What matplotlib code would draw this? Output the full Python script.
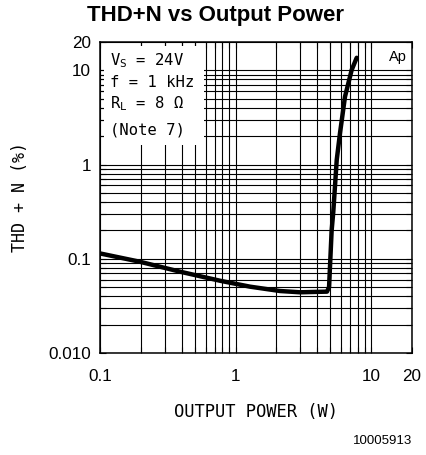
import matplotlib
matplotlib.use("Agg")
import matplotlib.pyplot as plt
from matplotlib.ticker import FixedLocator, NullFormatter
from matplotlib.patches import Rectangle

# Data
power_w = [0.1, 0.197, 0.389, 0.767, 1.277, 2.125, 2.985, 4.72, 4.89,
           5.11, 5.25, 5.57, 5.89, 6.41, 7.18, 7.82]
thd_n_pct = [0.114, 0.093, 0.073, 0.0585, 0.0506, 0.0455, 0.0441, 0.0448, 0.050,
             0.20, 0.31, 1.12, 2.16, 5.26, 10.1, 13.6]

x_major = [0.1, 1, 10, 20]
x_major_labels = ["0.1", "1", "10", "20"]
x_minor = [0.2, 0.3, 0.4, 0.5, 0.6, 0.7, 0.8, 0.9, 2, 3, 4, 5, 6, 7, 8, 9]
y_major = [0.01, 0.1, 1, 10, 20]
y_major_labels = ["0.010", "0.1", "1", "10", "20"]
y_minor = [0.02, 0.03, 0.04, 0.05, 0.06, 0.07, 0.08, 0.09,
           0.2, 0.3, 0.4, 0.5, 0.6, 0.7, 0.8, 0.9,
           2, 3, 4, 5, 6, 7, 8, 9]

title = "THD+N vs Output Power"
xlabel = "OUTPUT POWER (W)"
ylabel = "THD + N (%)"
conditions = [r"$\mathregular{V_S}$ = 24V", "f = 1 kHz",
              r"$\mathregular{R_L}$ = 8 Ω", "(Note 7)"]
doc_id = "10005913"

plt.rcParams['mathtext.fontset'] = 'custom'
plt.rcParams['mathtext.rm'] = 'DejaVu Sans Mono'
plt.rcParams['mathtext.it'] = 'DejaVu Sans Mono'

W, H = 427, 455
fig = plt.figure(figsize=(W / 100, H / 100), dpi=100)
ax = fig.add_axes([100 / W, 1 - 353 / H, 312 / W, 311 / H])
ax.set_xscale('log')
ax.set_yscale('log')
ax.set_xlim(0.1, 20)
ax.set_ylim(0.01, 20)

ax.xaxis.set_major_locator(FixedLocator(x_major))
ax.xaxis.set_minor_locator(FixedLocator(x_minor))
ax.set_xticklabels(x_major_labels)
ax.xaxis.set_minor_formatter(NullFormatter())
ax.yaxis.set_major_locator(FixedLocator(y_major))
ax.yaxis.set_minor_locator(FixedLocator(y_minor))
ax.set_yticklabels(y_major_labels)
ax.yaxis.set_minor_formatter(NullFormatter())

for lab in ax.get_xticklabels() + ax.get_yticklabels():
    lab.set_fontfamily('Liberation Sans')
    lab.set_fontsize(12.3)

ax.tick_params(which='both', direction='in', top=True, right=True,
               length=4, width=0.8, color='black')
ax.tick_params(axis='x', which='major', pad=11.5)
ax.tick_params(axis='y', which='major', pad=6.5)

ax.grid(True, which='both', color='black', linewidth=0.8)
for s in ax.spines.values():
    s.set_linewidth(1.1)

# blank box behind condition text
ax.add_patch(Rectangle((0.013, 0.669), 0.32, 0.318, transform=ax.transAxes,
                       facecolor='white', edgecolor='none', zorder=1.6))

ax.plot(power_w, thd_n_pct, color='black', linewidth=3.2,
        solid_joinstyle='round', solid_capstyle='round', zorder=3)

mono = 'DejaVu Sans Mono'
ys = [0.926, 0.855, 0.788, 0.701]
for txt, yv in zip(conditions, ys):
    ax.text(0.032, yv, txt, transform=ax.transAxes, family=mono, fontsize=11.2,
            va='baseline', ha='left', zorder=4)

ax.text(0.985, 0.975, "Ap", transform=ax.transAxes, family='Liberation Sans',
        fontsize=10.5, ha='right', va='top', zorder=4)

ax.set_xlabel(xlabel, family=mono, fontsize=12.3)
ax.xaxis.set_label_coords(0.5, (353 - 403) / 311)
ax.xaxis.label.set_va('top')
ax.set_ylabel(ylabel, family=mono, fontsize=12)
ax.yaxis.set_label_coords((29 - 100) / 312, 0.5)

fig.text(216 / W, 1 - 16 / H, title, family='Liberation Sans', fontweight='bold',
         fontsize=16, ha='center', va='center')
fig.text(412 / W, 1 - 441 / H, doc_id, family='Liberation Sans', fontsize=9.5,
         ha='right', va='center')

fig.savefig('out.png', dpi=100)
